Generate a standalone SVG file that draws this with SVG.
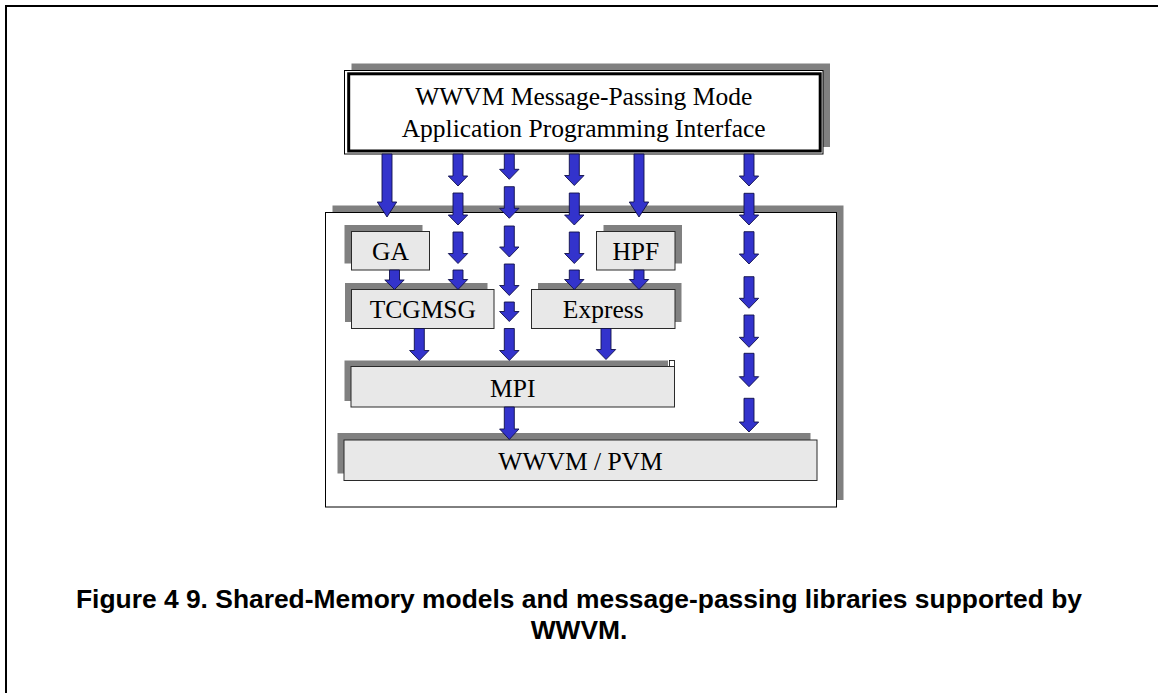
<svg xmlns="http://www.w3.org/2000/svg" width="1158" height="693" viewBox="0 0 1158 693">
  <style>
    .shadow { fill: #808080; stroke: none; }
    .box { fill: #e8e8e8; stroke: #2a2a2a; stroke-width: 1; }
    .label { font-family: "Liberation Serif", "Times New Roman", serif; font-size: 25.5px; fill: #000; text-anchor: middle; }
    .arr { fill: #3333cc; stroke: #10104a; stroke-width: 0.9; stroke-linejoin: miter; }
    .caption { font-family: "Liberation Sans", Arial, sans-serif; font-weight: bold; font-size: 26.4px; fill: #000; text-anchor: middle; }
  </style>

  <rect x="0" y="0" width="1158" height="693" fill="#ffffff"/>

  <!-- page frame (top and left rules) -->
  <g id="frame" stroke="#000" stroke-width="2" fill="none">
    <line x1="5" y1="6" x2="1158" y2="6"/>
    <line x1="6" y1="5" x2="6" y2="693"/>
  </g>

  <!-- API box with double border -->
  <g id="api">
    <rect class="shadow" x="351.5" y="63.5" width="478.5" height="83.5"/>
    <rect x="344.5" y="70.5" width="478.5" height="83.5" fill="#ffffff" stroke="#000" stroke-width="1"/>
    <rect x="348.7" y="73.8" width="471.5" height="77.2" fill="none" stroke="#000" stroke-width="3"/>
    <text class="label" x="583.7" y="105">WWVM Message-Passing Mode</text>
    <text class="label" x="583.7" y="137">Application Programming Interface</text>
  </g>

  <!-- enclosing library container -->
  <g id="container">
    <rect class="shadow" x="332.5" y="205.5" width="511" height="294.5"/>
    <rect x="325.5" y="212.5" width="511" height="294.5" fill="#ffffff" stroke="#000" stroke-width="1"/>
  </g>

  <g id="ga">
    <rect class="shadow" x="344.5" y="225" width="78" height="38.5"/>
    <rect class="box" x="351.5" y="231.5" width="78" height="38.5"/>
    <text class="label" x="390.5" y="260">GA</text>
  </g>

  <g id="hpf">
    <rect class="shadow" x="603.5" y="225" width="78.5" height="38.5"/>
    <rect class="box" x="596.5" y="231.5" width="78.5" height="38.5"/>
    <text class="label" x="635.8" y="260">HPF</text>
  </g>

  <g id="tcgmsg">
    <rect class="shadow" x="345" y="283" width="142.5" height="39"/>
    <rect class="box" x="351.5" y="289.5" width="142.5" height="39"/>
    <text class="label" x="422.8" y="317.5">TCGMSG</text>
  </g>

  <g id="express">
    <rect class="shadow" x="538" y="283" width="143.5" height="39"/>
    <rect class="box" x="531.5" y="289.5" width="143.5" height="39"/>
    <text class="label" x="603.2" y="317.5">Express</text>
  </g>

  <g id="mpi">
    <rect class="shadow" x="344.5" y="360.5" width="323.5" height="40.5"/>
    <rect x="669.5" y="360.5" width="5" height="6" fill="#ffffff" stroke="#000" stroke-width="0.8"/>
    <rect class="box" x="351" y="366.5" width="323.5" height="40.5"/>
    <text class="label" x="512.8" y="396.8">MPI</text>
  </g>

  <g id="wwvm-pvm">
    <rect class="shadow" x="337.5" y="433" width="473" height="40.5"/>
    <rect class="box" x="344" y="440" width="473" height="40.5"/>
    <text class="label" x="580.5" y="469.5">WWVM / PVM</text>
  </g>

  <!-- block arrows: shaft half-width 5, head half-width 9.7 -->
  <g id="connectors">
    <!-- API to GA -->
    <polygon class="arr" points="382,154 392,154 392,202 396.7,202 387,217 377.3,202 382,202"/>
    <!-- GA to TCGMSG -->
    <polygon class="arr" points="389.5,270 399.5,270 399.5,280 404.2,280 394.5,289.5 384.8,280 389.5,280"/>
    <!-- TCGMSG to MPI -->
    <polygon class="arr" points="414.3,328.5 424.3,328.5 424.3,350.5 429,350.5 419.3,360.5 409.6,350.5 414.3,350.5"/>

    <!-- API to TCGMSG (dashed run) -->
    <polygon class="arr" points="453,154 463,154 463,176 467.7,176 458,186 448.3,176 453,176"/>
    <polygon class="arr" points="453,193 463,193 463,215 467.7,215 458,225 448.3,215 453,215"/>
    <polygon class="arr" points="453,232 463,232 463,253.5 467.7,253.5 458,263.5 448.3,253.5 453,253.5"/>
    <polygon class="arr" points="453,270 463,270 463,279.5 467.7,279.5 458,289.5 448.3,279.5 453,279.5"/>

    <!-- API to MPI (dashed run) and MPI to WWVM / PVM -->
    <polygon class="arr" points="504.3,154 514.3,154 514.3,169.3 519,169.3 509.3,179.3 499.6,169.3 504.3,169.3"/>
    <polygon class="arr" points="504.3,186.7 514.3,186.7 514.3,208.3 519,208.3 509.3,218.3 499.6,208.3 504.3,208.3"/>
    <polygon class="arr" points="504.3,226 514.3,226 514.3,247 519,247 509.3,257 499.6,247 504.3,247"/>
    <polygon class="arr" points="504.3,264 514.3,264 514.3,285.5 519,285.5 509.3,295.5 499.6,285.5 504.3,285.5"/>
    <polygon class="arr" points="504.3,302 514.3,302 514.3,311.5 519,311.5 509.3,321.5 499.6,311.5 504.3,311.5"/>
    <polygon class="arr" points="504.3,328.5 514.3,328.5 514.3,350.5 519,350.5 509.3,360.5 499.6,350.5 504.3,350.5"/>
    <polygon class="arr" points="504.3,407 514.3,407 514.3,429 519,429 509.3,439.5 499.6,429 504.3,429"/>

    <!-- API to Express (dashed run) -->
    <polygon class="arr" points="569.3,154 579.3,154 579.3,175.5 584,175.5 574.3,185.5 564.6,175.5 569.3,175.5"/>
    <polygon class="arr" points="569.3,193 579.3,193 579.3,215 584,215 574.3,225 564.6,215 569.3,215"/>
    <polygon class="arr" points="569.3,232 579.3,232 579.3,253.5 584,253.5 574.3,263.5 564.6,253.5 569.3,253.5"/>
    <polygon class="arr" points="569.3,270 579.3,270 579.3,279.5 584,279.5 574.3,289.5 564.6,279.5 569.3,279.5"/>

    <!-- API to HPF, HPF to Express, Express to MPI -->
    <polygon class="arr" points="634,154 644,154 644,202 648.7,202 639,217 629.3,202 634,202"/>
    <polygon class="arr" points="634,270 644,270 644,279.5 648.7,279.5 639,289.5 629.3,279.5 634,279.5"/>
    <polygon class="arr" points="601,328.5 611,328.5 611,349.5 615.7,349.5 606,359.5 596.3,349.5 601,349.5"/>

    <!-- API to WWVM / PVM (dashed run) -->
    <polygon class="arr" points="744,154 754,154 754,176 758.7,176 749,186 739.3,176 744,176"/>
    <polygon class="arr" points="744,193.3 754,193.3 754,215 758.7,215 749,225 739.3,215 744,215"/>
    <polygon class="arr" points="744,231.7 754,231.7 754,254 758.7,254 749,264 739.3,254 744,254"/>
    <polygon class="arr" points="744,276.7 754,276.7 754,298.3 758.7,298.3 749,308.3 739.3,298.3 744,298.3"/>
    <polygon class="arr" points="744,315 754,315 754,337.3 758.7,337.3 749,347.3 739.3,337.3 744,337.3"/>
    <polygon class="arr" points="744,353.3 754,353.3 754,376.7 758.7,376.7 749,386.7 739.3,376.7 744,376.7"/>
    <polygon class="arr" points="744,398.3 754,398.3 754,422 758.7,422 749,432 739.3,422 744,422"/>
  </g>

  <g id="caption">
    <text class="caption" x="579" y="608.3">Figure 4 9. Shared-Memory models and message-passing libraries supported by</text>
    <text class="caption" x="579" y="639">WWVM.</text>
  </g>
</svg>
